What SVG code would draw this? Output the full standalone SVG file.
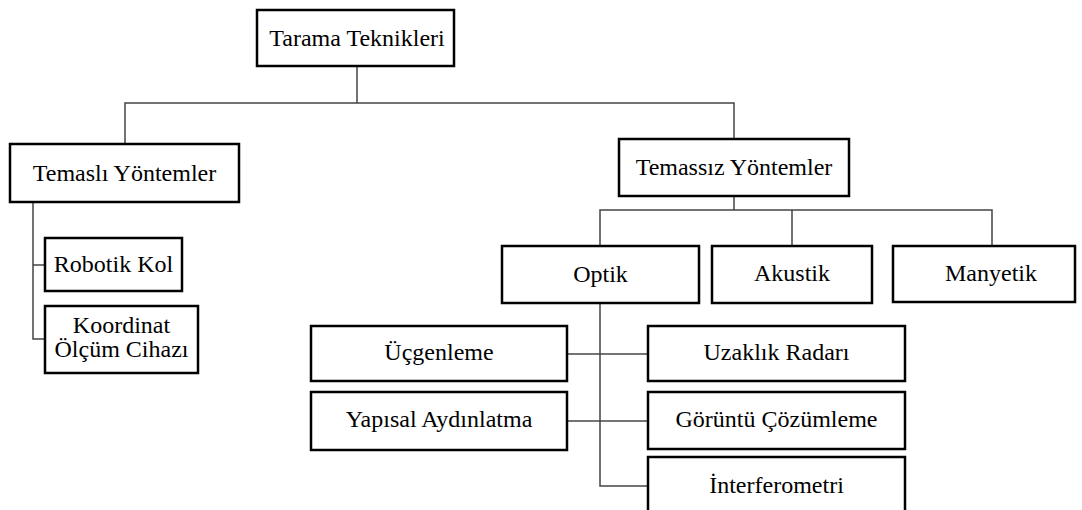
<svg xmlns="http://www.w3.org/2000/svg" width="1082" height="510" viewBox="0 0 1082 510">
<style>
.box{fill:#fff;stroke:#000;stroke-width:2.5}
.lbl{font-size:24px;fill:#000;text-anchor:middle}
.conn{fill:none;stroke:#444;stroke-width:1.5}
</style>
<rect width="1082" height="510" fill="#fff"/>
<g id="connectors" class="conn">
<path d="M357,65 V103"/>
<path d="M125,144 V103 H734 V139"/>
<path d="M33,202 V339 H45"/>
<path d="M33,265 H45"/>
<path d="M734,196 V210"/>
<path d="M600,246 V210 H992 V246"/>
<path d="M792,210 V246"/>
<path d="M600,303 V486 H648"/>
<path d="M567,354 H648"/>
<path d="M567,421 H648"/>
</g>
<g font-family="'Liberation Serif', 'Times New Roman', 'DejaVu Serif', serif">
<g id="n-tarama"><rect class="box" x="257" y="10" width="197" height="56"/><text class="lbl" x="357" y="46">Tarama Teknikleri</text></g>
<g id="n-temasli"><rect class="box" x="10" y="144" width="229" height="58"/><text class="lbl" x="124.5" y="181">Temaslı Yöntemler</text></g>
<g id="n-temassiz"><rect class="box" x="619" y="139" width="230" height="57"/><text class="lbl" x="734" y="175">Temassız Yöntemler</text></g>
<g id="n-robotik"><rect class="box" x="45" y="238" width="137" height="53"/><text class="lbl" x="113.5" y="272">Robotik Kol</text></g>
<g id="n-koordinat"><rect class="box" x="45" y="306" width="153" height="67"/><text class="lbl" x="121.5" y="333">Koordinat</text><text class="lbl" x="121.5" y="357">Ölçüm Cihazı</text></g>
<g id="n-optik"><rect class="box" x="502" y="246" width="197" height="57"/><text class="lbl" x="600.5" y="282">Optik</text></g>
<g id="n-akustik"><rect class="box" x="712" y="246" width="160" height="57"/><text class="lbl" x="792" y="281">Akustik</text></g>
<g id="n-manyetik"><rect class="box" x="893" y="246" width="182" height="56"/><text class="lbl" x="991" y="281">Manyetik</text></g>
<g id="n-ucgenleme"><rect class="box" x="311" y="326" width="256" height="55"/><text class="lbl" x="439" y="360">Üçgenleme</text></g>
<g id="n-uzaklik"><rect class="box" x="648" y="326" width="257" height="55"/><text class="lbl" x="776.5" y="360">Uzaklık Radarı</text></g>
<g id="n-yapisal"><rect class="box" x="311" y="392" width="256" height="58"/><text class="lbl" x="439" y="427">Yapısal Aydınlatma</text></g>
<g id="n-goruntu"><rect class="box" x="648" y="392" width="257" height="57"/><text class="lbl" x="776.5" y="427">Görüntü Çözümleme</text></g>
<g id="n-interferometri"><rect class="box" x="648" y="457" width="257" height="62"/><text class="lbl" x="776.5" y="493">İnterferometri</text></g>
</g>
</svg>
